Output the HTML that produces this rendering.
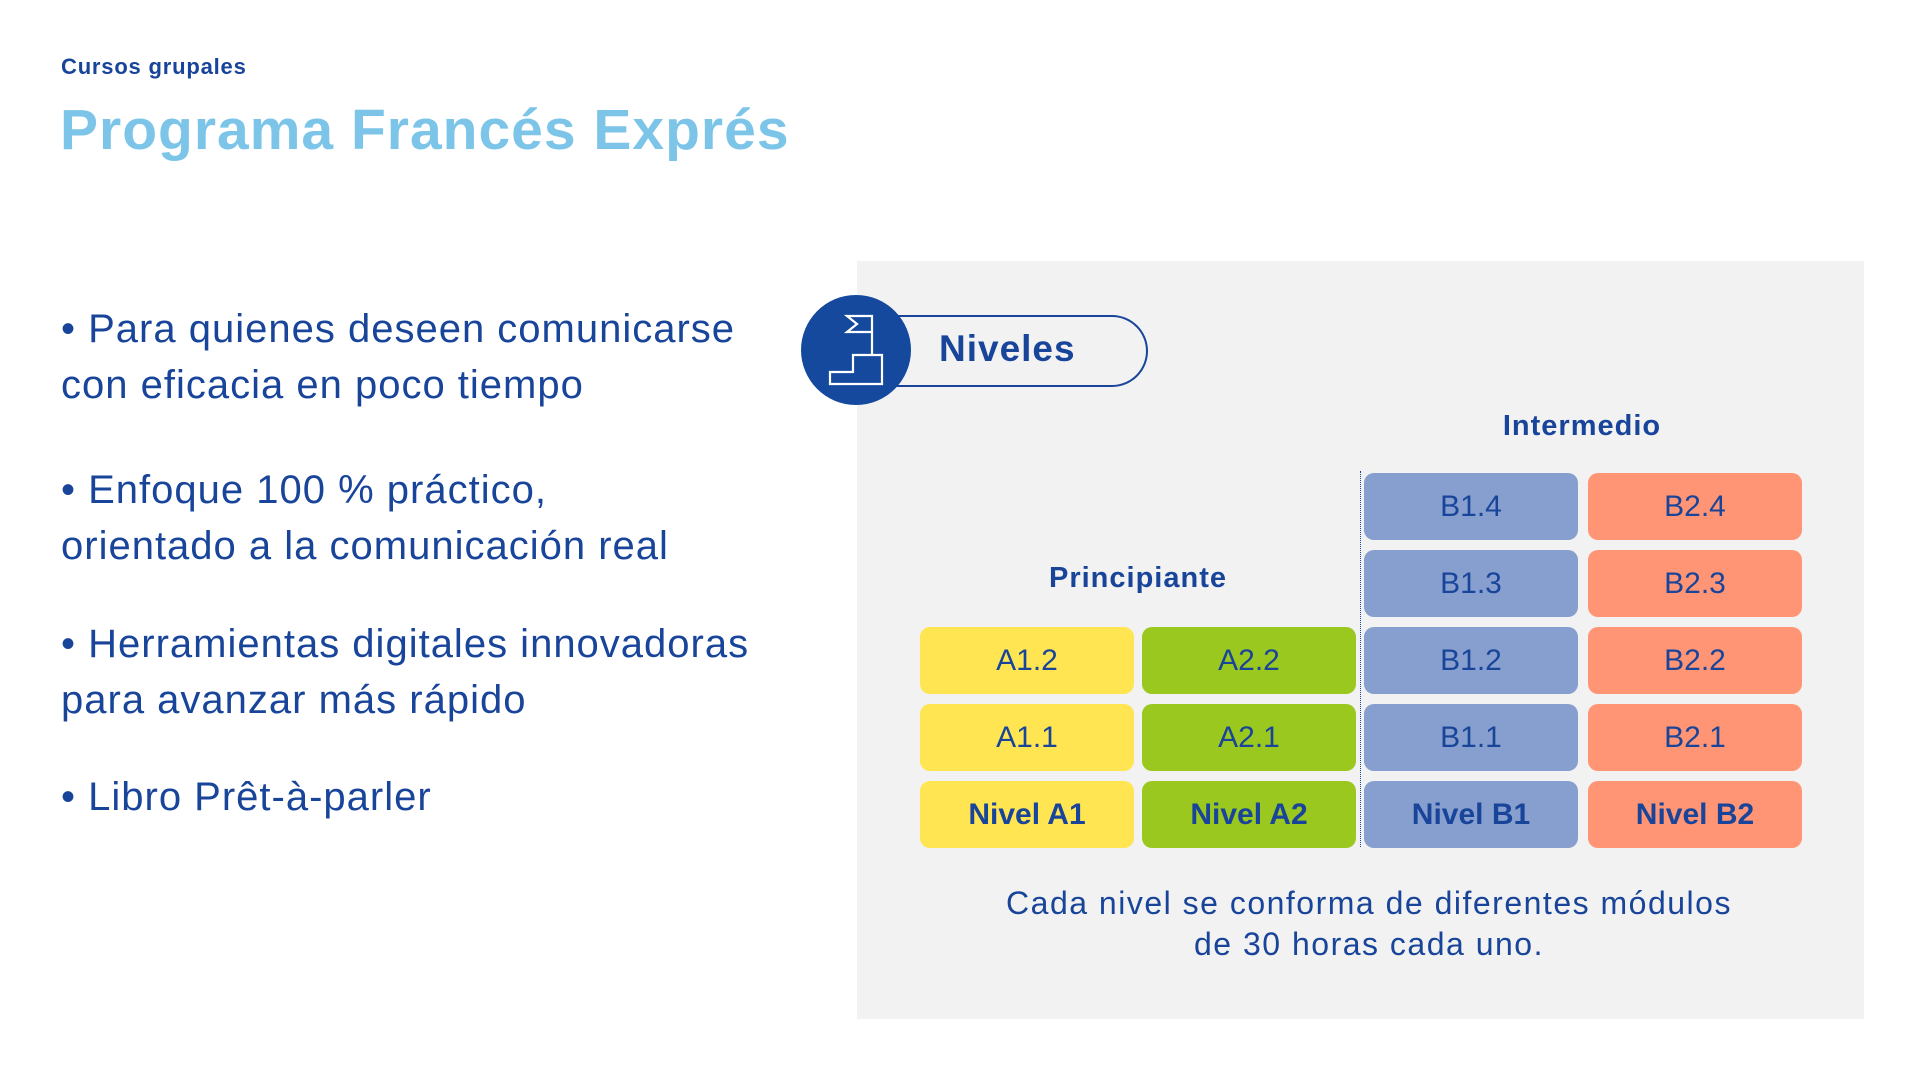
<!DOCTYPE html>
<html><head><meta charset="utf-8"><style>
*{margin:0;padding:0;box-sizing:border-box}
body{width:1920px;height:1080px;background:#fff;position:relative;overflow:hidden;font-family:"Liberation Sans",sans-serif;color:#18449a}
.a{position:absolute;white-space:nowrap}
.sub{left:61px;top:54px;font-size:22px;font-weight:bold;letter-spacing:0.8px}
.title{left:60px;top:97px;font-size:57px;font-weight:bold;color:#7cc5e8;letter-spacing:1px}
.b{left:61px;font-size:40px;line-height:56px;letter-spacing:1px}
.panel{left:857px;top:261px;width:1007px;height:758px;background:#f2f2f2}
.pill{left:870px;top:315px;width:278px;height:72px;border:2px solid #18449a;border-radius:0 36px 36px 0;border-left:none}
.circ{left:801px;top:295px;width:110px;height:110px;border-radius:50%;background:#14499e}
.box{position:absolute;width:214px;height:67px;border-radius:10px;display:flex;align-items:center;justify-content:center;font-size:30px;color:#18449a}
.y{background:#ffe552}.g{background:#9bc81f}.bl{background:#879fce}.o{background:#ff9574}
.bold{font-weight:bold}
.h{font-size:29px;font-weight:bold;transform:translateX(-50%);letter-spacing:1px}
.cap{left:1369px;transform:translateX(-50%);font-size:32px;text-align:center;line-height:41px;top:883px;letter-spacing:1.5px}
</style></head><body>
<div class="a sub">Cursos grupales</div>
<div class="a title">Programa Francés Exprés</div>
<div class="a b" style="top:301px">• Para quienes deseen comunicarse<br>con eficacia en poco tiempo</div>
<div class="a b" style="top:462px">• Enfoque 100 % práctico,<br>orientado a la comunicación real</div>
<div class="a b" style="top:616px">• Herramientas digitales innovadoras<br>para avanzar más rápido</div>
<div class="a b" style="top:769px">• Libro Prêt-à-parler</div>
<div class="a panel"></div>
<div class="a pill"></div>
<div class="a circ"><svg width="110" height="110" viewBox="0 0 110 110"><g fill="none" stroke="#fff" stroke-width="2.2"><path d="M29 89V77H52V60H81V89Z"/><path d="M71 60V21H46l10 8-10 8h25"/></g></svg></div>
<div class="a" style="left:939px;top:328px;font-size:37px;font-weight:bold;letter-spacing:1px">Niveles</div>
<div class="a h" style="left:1582px;top:410px">Intermedio</div>
<div class="a h" style="left:1138px;top:562px">Principiante</div>
<div class="a" style="left:1360px;top:471px;height:376px;border-left:1px dotted #18449a"></div>
<div class="box bl" style="left:1364px;top:473px">B1.4</div>
<div class="box o" style="left:1588px;top:473px">B2.4</div>
<div class="box bl" style="left:1364px;top:550px">B1.3</div>
<div class="box o" style="left:1588px;top:550px">B2.3</div>
<div class="box y" style="left:920px;top:627px">A1.2</div>
<div class="box g" style="left:1142px;top:627px">A2.2</div>
<div class="box bl" style="left:1364px;top:627px">B1.2</div>
<div class="box o" style="left:1588px;top:627px">B2.2</div>
<div class="box y" style="left:920px;top:704px">A1.1</div>
<div class="box g" style="left:1142px;top:704px">A2.1</div>
<div class="box bl" style="left:1364px;top:704px">B1.1</div>
<div class="box o" style="left:1588px;top:704px">B2.1</div>
<div class="box y bold" style="left:920px;top:781px">Nivel A1</div>
<div class="box g bold" style="left:1142px;top:781px">Nivel A2</div>
<div class="box bl bold" style="left:1364px;top:781px">Nivel B1</div>
<div class="box o bold" style="left:1588px;top:781px">Nivel B2</div>
<div class="a cap">Cada nivel se conforma de diferentes módulos<br>de 30 horas cada uno.</div>
</body></html>
